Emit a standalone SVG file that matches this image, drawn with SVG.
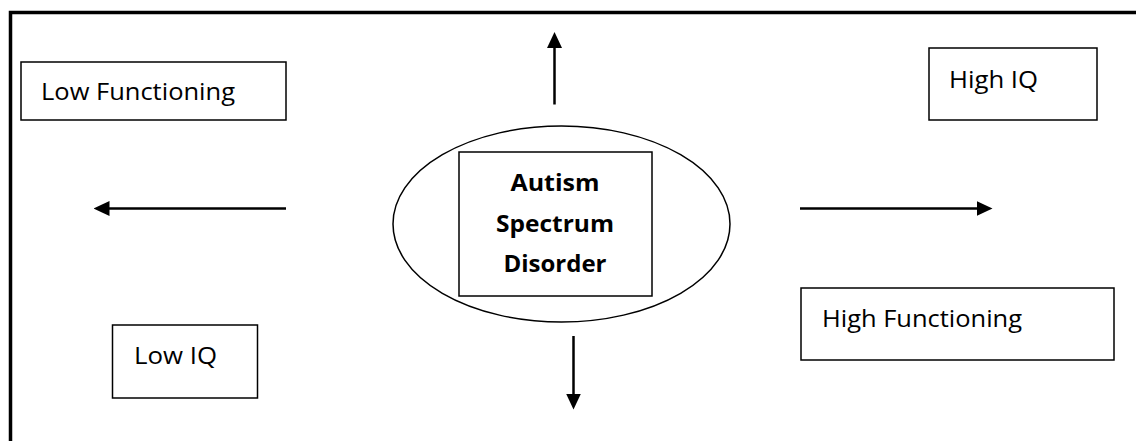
<svg xmlns="http://www.w3.org/2000/svg" width="1136" height="441" viewBox="0 0 1136 441">
  <style>
    .box { fill: #ffffff; stroke: #000000; stroke-width: 1.5; }
    .lbl { font-family: "Open Sans", "Noto Sans", "Liberation Sans", sans-serif; font-size: 24px; fill: #000000; }
    .bold { font-weight: bold; text-anchor: middle; }
    .conn { stroke: #000000; stroke-width: 2.5; fill: none; marker-end: url(#arrow); }
  </style>
  <defs>
    <marker id="arrow" markerUnits="userSpaceOnUse" markerWidth="16" markerHeight="15" refX="2" refY="7.5" orient="auto">
      <path d="M0,0 L16,7.5 L0,15 z" fill="#000000"/>
    </marker>
  </defs>
  <rect x="0" y="0" width="1136" height="441" fill="#ffffff"/>
  <path id="frame" d="M10.5,441 V12.5 H1136" fill="none" stroke="#000000" stroke-width="3.5" stroke-linejoin="miter"/>

  <g id="low-functioning">
    <rect class="box" x="21" y="62" width="265" height="58"/>
    <text class="lbl" x="41" y="100" textLength="194" lengthAdjust="spacingAndGlyphs">Low Functioning</text>
  </g>
  <g id="high-iq">
    <rect class="box" x="929" y="48" width="168" height="72"/>
    <text class="lbl" x="949" y="88" textLength="89" lengthAdjust="spacingAndGlyphs">High IQ</text>
  </g>
  <g id="low-iq">
    <rect class="box" x="112.5" y="325" width="145" height="73"/>
    <text class="lbl" x="134" y="364" textLength="83" lengthAdjust="spacingAndGlyphs">Low IQ</text>
  </g>
  <g id="high-functioning">
    <rect class="box" x="801" y="288" width="313" height="72"/>
    <text class="lbl" x="822" y="327" textLength="200" lengthAdjust="spacingAndGlyphs">High Functioning</text>
  </g>
  <g id="asd">
    <ellipse class="box" cx="561.5" cy="224" rx="168.5" ry="98"/>
    <rect class="box" x="459" y="152" width="193" height="144"/>
    <text class="lbl bold" x="555" y="191" textLength="89" lengthAdjust="spacingAndGlyphs">Autism</text>
    <text class="lbl bold" x="555" y="232" textLength="118" lengthAdjust="spacingAndGlyphs">Spectrum</text>
    <text class="lbl bold" x="555" y="272" textLength="103" lengthAdjust="spacingAndGlyphs">Disorder</text>
  </g>

  <g id="connectors">
    <line class="conn" x1="554.5" y1="104.5" x2="554.5" y2="46"/>
    <line class="conn" x1="573.5" y1="336" x2="573.5" y2="395.5"/>
    <line class="conn" x1="286" y1="208.5" x2="107.5" y2="208.5"/>
    <line class="conn" x1="800" y1="208.5" x2="978.5" y2="208.5"/>
  </g>
</svg>
